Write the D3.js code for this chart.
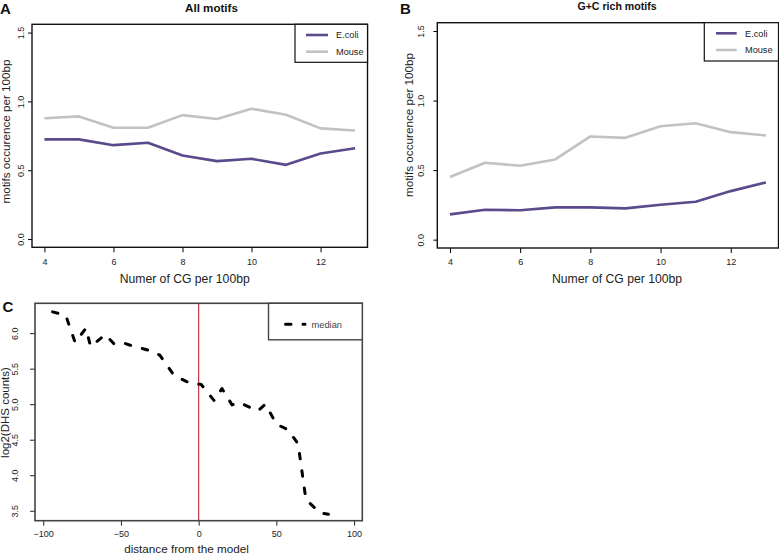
<!DOCTYPE html>
<html>
<head>
<meta charset="utf-8">
<script src="https://cdn.jsdelivr.net/npm/d3@7"></script>
<style>
  html, body { margin: 0; padding: 0; background: #fff; }
  svg { display: block; font-family: "Liberation Sans", Arial, Helvetica, sans-serif; }
</style>
</head>
<body>
<svg id="chart" width="779" height="556"></svg>
<script>
// ---------------- data ----------------
const cgCounts = [4, 5, 6, 7, 8, 9, 10, 11, 12, 13];
const allEcoli = [0.724, 0.724, 0.682, 0.699, 0.607, 0.566, 0.583, 0.539, 0.622, 0.660];
const allMouse = [0.877, 0.891, 0.808, 0.808, 0.900, 0.872, 0.947, 0.903, 0.804, 0.789];
const gcEcoli  = [0.182, 0.215, 0.211, 0.232, 0.232, 0.225, 0.251, 0.273, 0.349, 0.411];
const gcMouse  = [0.450, 0.553, 0.531, 0.577, 0.742, 0.732, 0.816, 0.837, 0.773, 0.749];

const distance     = [-94, -85.5, -79.5, -72.5, -69.5, -60, -54.5, -48, -44, -32.5, -25, -16, -8, -4, 1.5,
                      10, 15, 21.5, 26.5, 38, 43, 50, 57.5, 64, 69, 78, 83.5];
const medianCounts = [6.30, 6.25, 5.87, 6.07, 5.81, 5.98, 5.85, 5.86, 5.83, 5.76, 5.69, 5.41, 5.32, 5.285, 5.28,
                      5.05, 5.22, 4.99, 5.02, 4.905, 5.00, 4.72, 4.64, 4.44, 3.66, 3.47, 3.45];

const xTicksAB = [4, 6, 8, 10, 12];
const yTicksAB = [0, 0.5, 1.0, 1.5];
const yTickLabelsAB = ["0.0", "0.5", "1.0", "1.5"];
const xTicksC = [-100, -50, 0, 50, 100];
const xTickLabelsC = ["\u2212100", "\u221250", "0", "50", "100"];
const yTicksC = [3.5, 4.0, 4.5, 5.0, 5.5, 6.0];
const yTickLabelsC = ["3.5", "4.0", "4.5", "5.0", "5.5", "6.0"];
const seriesNames = ["E.coli", "Mouse"];
const seriesColors = ["#5b4a8c", "#c2c2c2"];

const svg = d3.select("#chart");

// ---------------- panel helper (A, B) ----------------
function motifPanel(opt) {
  const x = d3.scaleLinear().domain([3.64, 13.36]).range([opt.x0, opt.x1]);
  const y = d3.scaleLinear().domain([-0.06, 1.56]).range([opt.y1, opt.y0]);
  const g = svg.append("g");

  const line = d3.line().x((d, i) => x(cgCounts[i])).y(d => y(d));
  [opt.mouse, opt.ecoli].forEach((vals, k) => {
    g.append("path").datum(vals)
      .attr("d", line)
      .attr("fill", "none")
      .attr("stroke", k === 0 ? seriesColors[1] : seriesColors[0])
      .attr("stroke-width", 2.6)
      .attr("stroke-linejoin", "round");
  });

  const xa = d3.axisBottom(x).tickValues(xTicksAB).tickSize(5).tickPadding(6).tickFormat(d3.format("d"));
  const gx = g.append("g").attr("transform", `translate(0,${opt.y1})`).call(xa);
  gx.select(".domain").remove();
  gx.selectAll("line").attr("stroke", "#000");
  gx.selectAll("text").attr("font-size", 9).attr("fill", "#222").attr("font-family", null);

  const ya = d3.axisLeft(y).tickValues(yTicksAB).tickSize(4).tickFormat((d, i) => yTickLabelsAB[i]);
  const gy = g.append("g").attr("transform", `translate(${opt.x0},0)`).call(ya);
  gy.select(".domain").remove();
  gy.selectAll("line").attr("stroke", "#000");
  gy.selectAll("text")
    .attr("font-size", 9).attr("fill", "#222").attr("font-family", null)
    .attr("text-anchor", "middle").attr("dy", null).attr("x", null)
    .attr("transform", `translate(${opt.yTickBase - opt.x0},0) rotate(-90)`);

  g.append("rect").attr("x", opt.x0).attr("y", opt.y0)
    .attr("width", opt.x1 - opt.x0).attr("height", opt.y1 - opt.y0)
    .attr("fill", "none").attr("stroke", "#111").attr("stroke-width", 1.4);

  const lg = g.append("g");
  lg.append("rect").attr("x", opt.lx0).attr("y", opt.y0)
    .attr("width", opt.x1 - opt.lx0).attr("height", opt.ly1 - opt.y0)
    .attr("fill", "#fff").attr("stroke", "#111").attr("stroke-width", 1.2);
  seriesNames.forEach((nm, i) => {
    const yy = opt.legY[i];
    lg.append("line").attr("x1", opt.legLine[0]).attr("x2", opt.legLine[1])
      .attr("y1", yy).attr("y2", yy)
      .attr("stroke", seriesColors[i]).attr("stroke-width", 2.6);
    lg.append("text").attr("x", opt.legText).attr("y", yy).attr("dy", "0.35em")
      .attr("font-size", 9.2).attr("fill", "#222").text(nm);
  });

  svg.append("text").attr("x", opt.titleX).attr("y", opt.titleY)
    .attr("text-anchor", "middle").attr("font-weight", "bold")
    .attr("font-size", opt.titleSize).attr("fill", "#111").text(opt.title);
  svg.append("text").attr("x", opt.letterX).attr("y", 13.5)
    .attr("font-weight", "bold").attr("font-size", 15).attr("fill", "#111").text(opt.letter);
  svg.append("text").attr("x", opt.xLabelX).attr("y", 283)
    .attr("text-anchor", "middle").attr("font-size", 12.2).attr("fill", "#222")
    .text("Numer of CG per 100bp");
  svg.append("text")
    .attr("transform", `translate(${opt.yLabelX},${opt.yLabelY}) rotate(-90)`)
    .attr("text-anchor", "middle").attr("font-size", 11.7).attr("fill", "#222")
    .text("motifs occurence per 100bp");
}

motifPanel({
  x0: 32, x1: 367.5, y0: 24.3, y1: 247.3,
  ecoli: allEcoli, mouse: allMouse,
  lx0: 295, ly1: 62.3, legY: [35, 51.7], legLine: [306, 328], legText: 336,
  title: "All motifs", titleX: 211.5, titleY: 12, titleSize: 11.6,
  letter: "A", letterX: 0,
  xLabelX: 184.7, yLabelX: 9.5, yLabelY: 131.5, yTickBase: 23.5
});

motifPanel({
  x0: 437.3, x1: 778.5, y0: 22.7, y1: 248,
  ecoli: gcEcoli, mouse: gcMouse,
  lx0: 704.3, ly1: 61, legY: [33.3, 50], legLine: [716, 736.7], legText: 745,
  title: "G+C rich motifs", titleX: 617, titleY: 10, titleSize: 10.6,
  letter: "B", letterX: 400,
  xLabelX: 617, yLabelX: 412.5, yLabelY: 125, yTickBase: 423.5
});

// ---------------- panel C ----------------
(function () {
  const x0 = 35, x1 = 362.3, y0 = 303.3, y1 = 520.7;
  const x = d3.scaleLinear().domain([-105.3, 105.3]).range([x0, x1]);
  const y = d3.scaleLinear().domain([3.36, 6.42]).range([y1, y0]);
  const g = svg.append("g");

  g.append("line").attr("x1", x(0)).attr("x2", x(0)).attr("y1", y0).attr("y2", y1)
    .attr("stroke", "#c0262c").attr("stroke-width", 1.1);

  const line = d3.line().x((d, i) => x(distance[i])).y(d => y(d));
  g.append("path").datum(medianCounts)
    .attr("d", line).attr("fill", "none")
    .attr("stroke", "#000").attr("stroke-width", 3)
    .attr("stroke-linecap", "round").attr("stroke-linejoin", "round")
    .attr("stroke-dasharray", "5.5,12");

  const xa = d3.axisBottom(x).tickValues(xTicksC).tickSize(5).tickPadding(5)
    .tickFormat((d, i) => xTickLabelsC[i]);
  const gx = g.append("g").attr("transform", `translate(0,${y1})`).call(xa);
  gx.select(".domain").remove();
  gx.selectAll("line").attr("stroke", "#222");
  gx.selectAll("text").attr("font-size", 9).attr("fill", "#222").attr("font-family", null);

  const ya = d3.axisLeft(y).tickValues(yTicksC).tickSize(5).tickFormat((d, i) => yTickLabelsC[i]);
  const gy = g.append("g").attr("transform", `translate(${x0},0)`).call(ya);
  gy.select(".domain").remove();
  gy.selectAll("line").attr("stroke", "#222");
  gy.selectAll("text")
    .attr("font-size", 9).attr("fill", "#222").attr("font-family", null)
    .attr("text-anchor", "middle").attr("dy", null).attr("x", null)
    .attr("transform", `translate(${18 - x0},0) rotate(-90)`);

  g.append("rect").attr("x", x0).attr("y", y0).attr("width", x1 - x0).attr("height", y1 - y0)
    .attr("fill", "none").attr("stroke", "#444").attr("stroke-width", 1.6);

  g.append("rect").attr("x", 268.5).attr("y", y0).attr("width", x1 - 268.5).attr("height", 339.8 - y0)
    .attr("fill", "#fff").attr("stroke", "#444").attr("stroke-width", 1.4);
  g.append("line").attr("x1", 285.5).attr("x2", 305).attr("y1", 324.3).attr("y2", 324.3)
    .attr("stroke", "#000").attr("stroke-width", 3).attr("stroke-linecap", "round")
    .attr("stroke-dasharray", "5.5,12");
  g.append("text").attr("x", 311.5).attr("y", 324.3).attr("dy", "0.35em")
    .attr("font-size", 9.3).attr("fill", "#444").text("median");

  svg.append("text").attr("x", 2.5).attr("y", 312).attr("font-weight", "bold")
    .attr("font-size", 15).attr("fill", "#111").text("C");
  svg.append("text").attr("x", 186.5).attr("y", 553)
    .attr("text-anchor", "middle").attr("font-size", 11.7).attr("fill", "#222")
    .text("distance from the model");
  svg.append("text")
    .attr("transform", `translate(8.5,412.5) rotate(-90)`)
    .attr("text-anchor", "middle").attr("font-size", 11.5).attr("fill", "#222")
    .text("log2(DHS counts)");
})();
</script>
</body>
</html>
